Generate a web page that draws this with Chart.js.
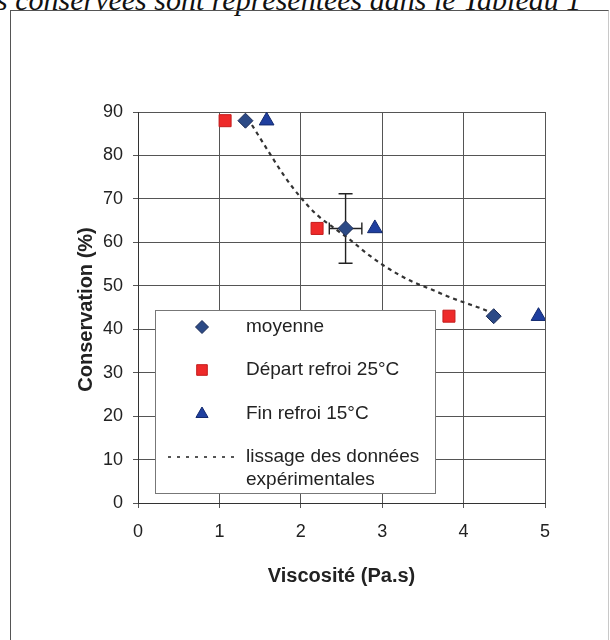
<!DOCTYPE html>
<html><head><meta charset="utf-8">
<script src="https://cdn.jsdelivr.net/npm/chart.js@4/dist/chart.umd.min.js"></script>
<style>
html,body{margin:0;padding:0;background:#fff;width:610px;height:640px;overflow:hidden;}
#wrap{position:relative;width:610px;height:640px;}
#frame{position:absolute;left:10px;top:10px;width:597px;height:700px;border-left:1.5px solid #555;border-top:1.5px solid #555;border-right:1px solid #c8c8c8;}
#cap{position:absolute;left:-4px;top:-15px;font:italic 30px 'Liberation Serif';line-height:30px;white-space:nowrap;color:#111;}
canvas{position:absolute;left:0;top:0;}
</style></head>
<body><div id="wrap"><div id="cap">s conservées sont représentées dans le Tableau 1</div><div id="frame"></div><canvas id="c" width="610" height="640"></canvas></div>
<script>
// ---- data ----
const moyX = [1.32, 2.55, 4.37];
const moyY = [88, 63.2, 43];
const depX = [1.07, 2.20, 3.82];
const depY = [88, 63.2, 43];
const finX = [1.58, 2.91, 4.92];
const finY = [88, 63.2, 43];
const errYMoy = [0, 8, 0];      // vertical error (±)
const errXMoy = [0, 0.2, 0];    // horizontal error (±)
const fitX = [1.40, 1.6, 1.8, 2.0, 2.2, 2.4, 2.6, 2.8, 3.0, 3.2, 3.4, 3.6, 3.8, 4.0, 4.2, 4.37];
const fitY = [87.0, 81.0, 75.2, 70.3, 66.3, 63.4, 60.7, 57.6, 54.9, 52.6, 50.7, 49.2, 47.6, 46.2, 44.9, 43.6];
const xTicks = [0, 1, 2, 3, 4, 5];
const yTicks = [0, 10, 20, 30, 40, 50, 60, 70, 80, 90];
const legendLabels = ['moyenne', 'Départ refroi 25°C', 'Fin refroi 15°C', ['lissage des données', 'expérimentales']];
const xTitle = 'Viscosité (Pa.s)';
const yTitle = 'Conservation (%)';

const zip = (xs, ys) => xs.map((x, i) => ({x, y: ys[i]}));
const FONT = "'Liberation Sans', Arial, sans-serif";
const TXT = '#222';

const styles = [
  {pointStyle:'rectRot', radius:7.5, legendRadius:6.5, backgroundColor:'#2c4a86', borderColor:'#1a2a55'},
  {pointStyle:'rect', radius:8.5, legendRadius:7.5, backgroundColor:'#ee2a2a', borderColor:'#c41c1c'},
  {pointStyle:'triangle', radius:8.5, legendRadius:7, backgroundColor:'#1f3f9f', borderColor:'#12296e'}
];

const errorBars = {
  id: 'errorBars',
  beforeDatasetsDraw(chart) {
    const {ctx, scales:{x, y}} = chart;
    ctx.save();
    ctx.strokeStyle = '#222';
    ctx.lineWidth = 1.4;
    moyX.forEach((vx, i) => {
      const px = x.getPixelForValue(vx), py = y.getPixelForValue(moyY[i]);
      if (errYMoy[i]) {
        const t = y.getPixelForValue(moyY[i] + errYMoy[i]), b = y.getPixelForValue(moyY[i] - errYMoy[i]);
        ctx.beginPath();
        ctx.moveTo(px, t); ctx.lineTo(px, b);
        ctx.moveTo(px - 7, t); ctx.lineTo(px + 7, t);
        ctx.moveTo(px - 7, b); ctx.lineTo(px + 7, b);
        ctx.stroke();
      }
      if (errXMoy[i]) {
        const l = x.getPixelForValue(vx - errXMoy[i]), r = x.getPixelForValue(vx + errXMoy[i]);
        ctx.beginPath();
        ctx.moveTo(l, py); ctx.lineTo(r, py);
        ctx.moveTo(l, py - 6); ctx.lineTo(l, py + 6);
        ctx.moveTo(r, py - 6); ctx.lineTo(r, py + 6);
        ctx.stroke();
      }
    });
    ctx.restore();
  }
};

const decor = {
  id: 'decor',
  afterDraw(chart) {
    const {ctx, chartArea:ca} = chart;
    ctx.save();
    // axis titles
    ctx.fillStyle = TXT;
    ctx.font = 'bold 20px ' + FONT;
    ctx.textAlign = 'center';
    ctx.textBaseline = 'middle';
    ctx.fillText(xTitle, (ca.left + ca.right) / 2, ca.bottom + 73);
    ctx.save();
    ctx.translate(ca.left - 52, (ca.top + ca.bottom) / 2 + 2);
    ctx.rotate(-Math.PI / 2);
    ctx.fillText(yTitle, 0, 0);
    ctx.restore();

    // legend box
    const lx1 = ca.left + 17, ly1 = ca.top + 198, lx2 = ca.left + 297, ly2 = ca.bottom - 10;
    ctx.fillStyle = '#fff';
    ctx.fillRect(lx1, ly1, lx2 - lx1, ly2 - ly1);
    ctx.strokeStyle = '#777';
    ctx.lineWidth = 1;
    ctx.strokeRect(Math.round(lx1) + 0.5, Math.round(ly1) + 0.5, lx2 - lx1, ly2 - ly1);

    const mx = lx1 + 47, tx = lx1 + 91;
    const rows = [ly1 + 17, ly1 + 60, ly1 + 104, ly1 + 147];
    ctx.font = '19px ' + FONT;
    ctx.textAlign = 'left';
    ctx.textBaseline = 'middle';
    styles.forEach((s, i) => {
      ctx.fillStyle = s.backgroundColor;
      ctx.strokeStyle = s.borderColor;
      ctx.lineWidth = 1;
      Chart.helpers.drawPoint(ctx, {pointStyle: s.pointStyle, radius: s.legendRadius, rotation: 0, borderWidth: 1}, mx, rows[i]);
      ctx.fillStyle = TXT;
      ctx.fillText(legendLabels[i], tx, rows[i]);
    });
    // fit-line sample
    ctx.strokeStyle = '#555';
    ctx.lineWidth = 2;
    ctx.setLineDash([3, 6]);
    ctx.beginPath();
    ctx.moveTo(lx1 + 13, rows[3]); ctx.lineTo(lx1 + 84, rows[3]);
    ctx.stroke();
    ctx.setLineDash([]);
    ctx.fillStyle = TXT;
    ctx.fillText(legendLabels[3][0], tx, rows[3]);
    ctx.fillText(legendLabels[3][1], tx, rows[3] + 23);
    ctx.restore();
  }
};

new Chart(document.getElementById('c'), {
  type: 'scatter',
  data: {
    datasets: [
      Object.assign({label: legendLabels[0], data: zip(moyX, moyY), pointBorderWidth: 1}, styles[0], {pointRadius: styles[0].radius}),
      Object.assign({label: legendLabels[1], data: zip(depX, depY), pointBorderWidth: 1}, styles[1], {pointRadius: styles[1].radius}),
      Object.assign({label: legendLabels[2], data: zip(finX, finY), pointBorderWidth: 1}, styles[2], {pointRadius: styles[2].radius}),
      {label: 'lissage des données expérimentales', data: zip(fitX, fitY), showLine: true, pointRadius: 0,
       borderColor: '#333', borderWidth: 2.2, borderDash: [4, 4], cubicInterpolationMode: 'monotone', fill: false}
    ]
  },
  options: {
    responsive: false,
    animation: false,
    events: [],
    layout: {padding: {left: 0, top: 112, right: 65, bottom: 0}},
    plugins: {legend: {display: false}, tooltip: {enabled: false}},
    scales: {
      x: {
        type: 'linear', min: 0, max: 5,
        afterBuildTicks: s => { s.ticks = xTicks.map(v => ({value: v})); },
        afterFit: s => { s.height = 137; },
        ticks: {font: {family: FONT, size: 18}, color: TXT, padding: 13},
        grid: {color: '#555', lineWidth: 1, tickLength: 5, tickColor: '#555'},
        border: {display: true, color: '#333', width: 1}
      },
      y: {
        type: 'linear', min: 0, max: 90,
        afterBuildTicks: s => { s.ticks = yTicks.map(v => ({value: v})); },
        afterFit: s => { s.width = 138; },
        ticks: {font: {family: FONT, size: 18}, color: TXT, padding: 10},
        grid: {color: '#555', lineWidth: 1, tickLength: 5, tickColor: '#555'},
        border: {display: true, color: '#333', width: 1}
      }
    }
  },
  plugins: [errorBars, decor]
});
</script>
</body></html>
